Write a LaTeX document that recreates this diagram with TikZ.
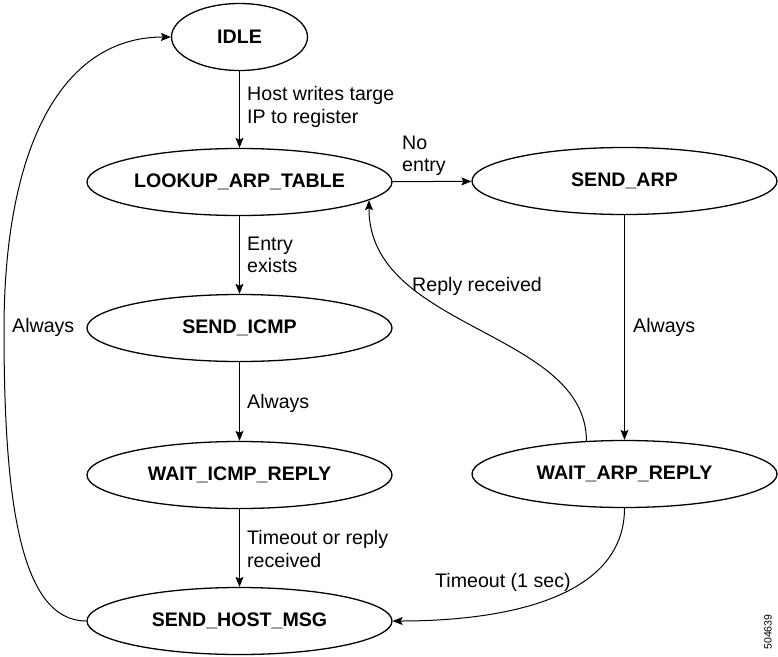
\documentclass[tikz,border=0pt]{standalone}
\usepackage{fontspec}
\setmainfont{Liberation Sans}
\usetikzlibrary{arrows.meta, shapes.geometric, calc}

\begin{document}
\begin{tikzpicture}[x=1pt, y=-1pt,
    font=\fontsize{19.6}{22.5}\selectfont,
    state/.style={draw, ellipse, line width=1.3pt, inner sep=0pt, minimum width=305pt, minimum height=67pt, font=\fontsize{19.6}{22.5}\selectfont\bfseries},
    trans/.style={-{Stealth[length=10pt, width=8pt, inset=2pt]}, line width=1pt},
    lbl/.style={align=left, anchor=west, inner sep=0pt}
]
\useasboundingbox (0,0) rectangle (778,656);

\node[state, minimum width=136pt] (idle) at (239.5,37) {IDLE};
\node[state] (lookup) at (239.5,182) {LOOKUP\_ARP\_TABLE};
\node[state] (sendarp) at (624.5,181) {SEND\_ARP};
\node[state] (sendicmp) at (239.5,328) {SEND\_ICMP};
\node[state] (waiticmp) at (239.5,475) {WAIT\_ICMP\_REPLY};
\node[state] (waitarp) at (624.5,474) {WAIT\_ARP\_REPLY};
\node[state] (sendhost) at (239.5,621) {SEND\_HOST\_MSG};

\node[lbl] (lhost) at (247,107) {Host writes targe\\IP to register};
\node[lbl] (lnoentry) at (402,156) {No\\entry};
\node[lbl] (lexists) at (247,255) {Entry\\exists};
\node[lbl] (lalways1) at (247,403) {Always};
\node[lbl] (ltimeout) at (247,549) {Timeout or reply\\received};
\node[lbl] (lalways2) at (633,327) {Always};
\node[lbl] (lalways3) at (12,327) {Always};
\node[lbl] (lreply) at (412,286) {Reply received};
\node[lbl] (lsec) at (435,582) {Timeout (1 sec)};
\node[rotate=90, inner sep=0pt, font=\fontsize{10.5}{12}\selectfont] (fignum) at (768,632) {504639};

\draw[trans] (idle) -- (lookup);
\draw[trans] (lookup) -- (sendarp);
\draw[trans] (lookup) -- (sendicmp);
\draw[trans] (sendicmp) -- (waiticmp);
\draw[trans] (waiticmp) -- (sendhost);
\draw[trans] (sendarp) -- (waitarp);
\draw[trans] (waitarp.139) .. controls (586,330) and (368,330) .. (lookup.-8);
\draw[trans] (waitarp.south) .. controls (624.5,600) and (500,621) .. (sendhost.east);
\draw[trans] (sendhost.west) .. controls (20,621) and (4,500) .. (4,330) .. controls (4,150) and (60,37) .. (idle.west);
\end{tikzpicture}
\end{document}
